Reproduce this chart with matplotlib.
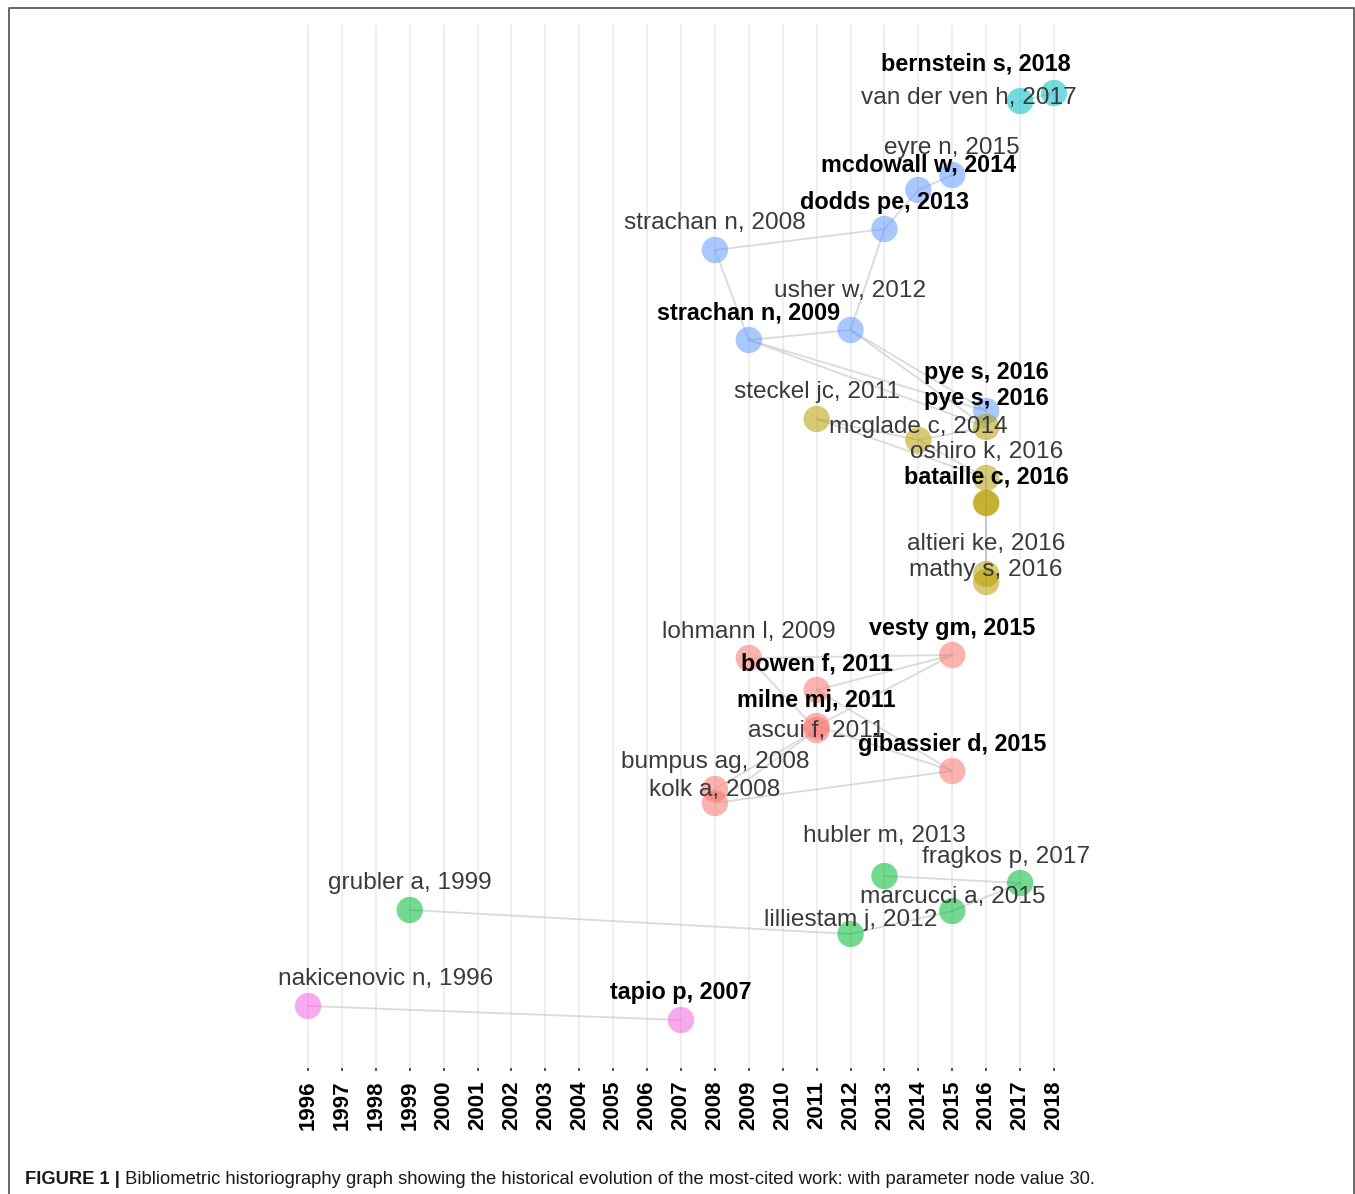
import matplotlib
matplotlib.use("Agg")
import matplotlib.pyplot as plt
from matplotlib.lines import Line2D

# =========================
# 1. DATA (historiograph nodes)
# =========================
labels = [
    "bernstein s, 2018", "van der ven h, 2017", "eyre n, 2015", "mcdowall w, 2014",
    "dodds pe, 2013", "strachan n, 2008", "usher w, 2012", "strachan n, 2009",
    "pye s, 2016", "pye s, 2016", "steckel jc, 2011", "mcglade c, 2014",
    "oshiro k, 2016", "bataille c, 2016", "altieri ke, 2016", "mathy s, 2016",
    "lohmann l, 2009", "vesty gm, 2015", "bowen f, 2011", "milne mj, 2011",
    "ascui f, 2011", "gibassier d, 2015", "bumpus ag, 2008", "kolk a, 2008",
    "hubler m, 2013", "fragkos p, 2017", "marcucci a, 2015", "lilliestam j, 2012",
    "grubler a, 1999", "nakicenovic n, 1996", "tapio p, 2007",
]
years = [2018, 2017, 2015, 2014, 2013, 2008, 2012, 2009,
         2016, 2016, 2011, 2014, 2016, 2016, 2016, 2016,
         2009, 2015, 2011, 2011, 2011, 2015, 2008, 2008,
         2013, 2017, 2015, 2012, 1999, 1996, 2007]
# vertical layout position of each node (top = small)
layout_y = [93, 101, 175, 190, 229, 250, 330, 340,
            411, 427, 419, 440, 478, 503, 574, 582,
            658, 655, 690, 726, 730, 771, 789, 803,
            876, 883, 911, 934, 910, 1006, 1020]
clusters = [3, 3, 4, 4, 4, 4, 4, 4,
            4, 1, 1, 1, 1, 1, 1, 1,
            0, 0, 0, 0, 0, 0, 0, 0,
            2, 2, 2, 2, 2, 5, 5]
bold = [1, 0, 0, 1, 1, 0, 0, 1,
        1, 1, 0, 0, 0, 1, 0, 0,
        0, 1, 1, 1, 0, 1, 0, 0,
        0, 0, 0, 0, 0, 0, 1]

edges = [(0, 1), (2, 3), (3, 4), (5, 4), (5, 7), (6, 4), (7, 6), (7, 8), (7, 9),
         (6, 8), (6, 9), (10, 11), (10, 12), (11, 12), (11, 9), (12, 13), (13, 14),
         (13, 15), (16, 17), (18, 17), (19, 17), (16, 20), (18, 21), (19, 21),
         (22, 20), (23, 20), (23, 21), (24, 25), (25, 26), (26, 27), (28, 27), (29, 30)]

year_ticks = list(range(1996, 2019))

# =========================
# 2. LABEL LAYOUT
# =========================
label_dx = [0.0] * len(labels)
label_dx[0] = -2.29
label_dx[1] = -1.5
label_dx[25] = -0.41
label_dx[29] = 2.29
label_y = [64, 98, 148, 165, 202, 223, 291, 313,
           372, 399, 392, 427, 452, 477, 544, 570,
           632, 628, 664, 700, 731, 745, 762, 790,
           836, 857, 897, 920, 883, 979, 993]

palette = ["#F8766D", "#B79F00", "#00BA38", "#00BFC4", "#619CFF", "#F564E3"]
node_alpha = [0.55] * len(labels)
node_alpha[13] = 0.8

# =========================
# 3. FIGURE
# =========================
W, H = 1355, 1194
fig = plt.figure(figsize=(W / 100, H / 100), dpi=100)
x0 = 308 - 33.91
ax = fig.add_axes([x0 / W, 1 - 1068 / H, (33.91 * 24) / W, (1068 - 25) / H])
ax.set_xlim(1995, 2019)
ax.set_ylim(1068, 25)

for a, b in edges:
    ax.plot([years[a], years[b]], [layout_y[a], layout_y[b]],
            color="#BDBDBD", alpha=0.55, lw=1.3, zorder=1, solid_capstyle="round")

for i in range(len(labels)):
    ax.scatter(years[i], layout_y[i], s=360, color=palette[clusters[i]],
               alpha=node_alpha[i], edgecolors="none", zorder=2)

for i, lab in enumerate(labels):
    ax.text(years[i] + label_dx[i], label_y[i], lab, ha="center", va="center",
            fontsize=16.8 if bold[i] else 17.6, family="Liberation Sans",
            fontweight="bold" if bold[i] else "normal",
            color="black" if bold[i] else "#3A3A3A", zorder=3)

ax.set_xticks(year_ticks)
ax.set_xticklabels([str(y) for y in year_ticks], rotation=90,
                   fontsize=16, fontweight="bold", family="Liberation Sans")
ax.tick_params(axis="x", length=2, width=1.2, color="#333333", pad=7)
ax.set_yticks([])
ax.grid(axis="x", color="#EBEBEB", lw=1.2)
ax.set_axisbelow(True)
for s in ax.spines.values():
    s.set_visible(False)

# caption
cap = fig.text(25 / W, 1 - 1180 / H, "FIGURE 1 |", fontsize=13.25, fontweight="bold",
               family="Liberation Sans", va="center", color="#1A1A1A")
ax.annotate(" Bibliometric historiography graph showing the historical evolution of the "
            "most-cited work: with parameter node value 30.",
            xy=(1, 0.5), xycoords=cap, va="center", ha="left", fontsize=13.25,
            family="Liberation Sans", color="#1A1A1A", annotation_clip=False)

# frame
fig.add_artist(Line2D([9 / W, 9 / W, 1353.5 / W, 1353.5 / W],
                      [0, 1 - 8 / H, 1 - 8 / H, 0],
                      color="#5A5A5A", lw=1.3, transform=fig.transFigure))

plt.savefig("out.png", dpi=100)
